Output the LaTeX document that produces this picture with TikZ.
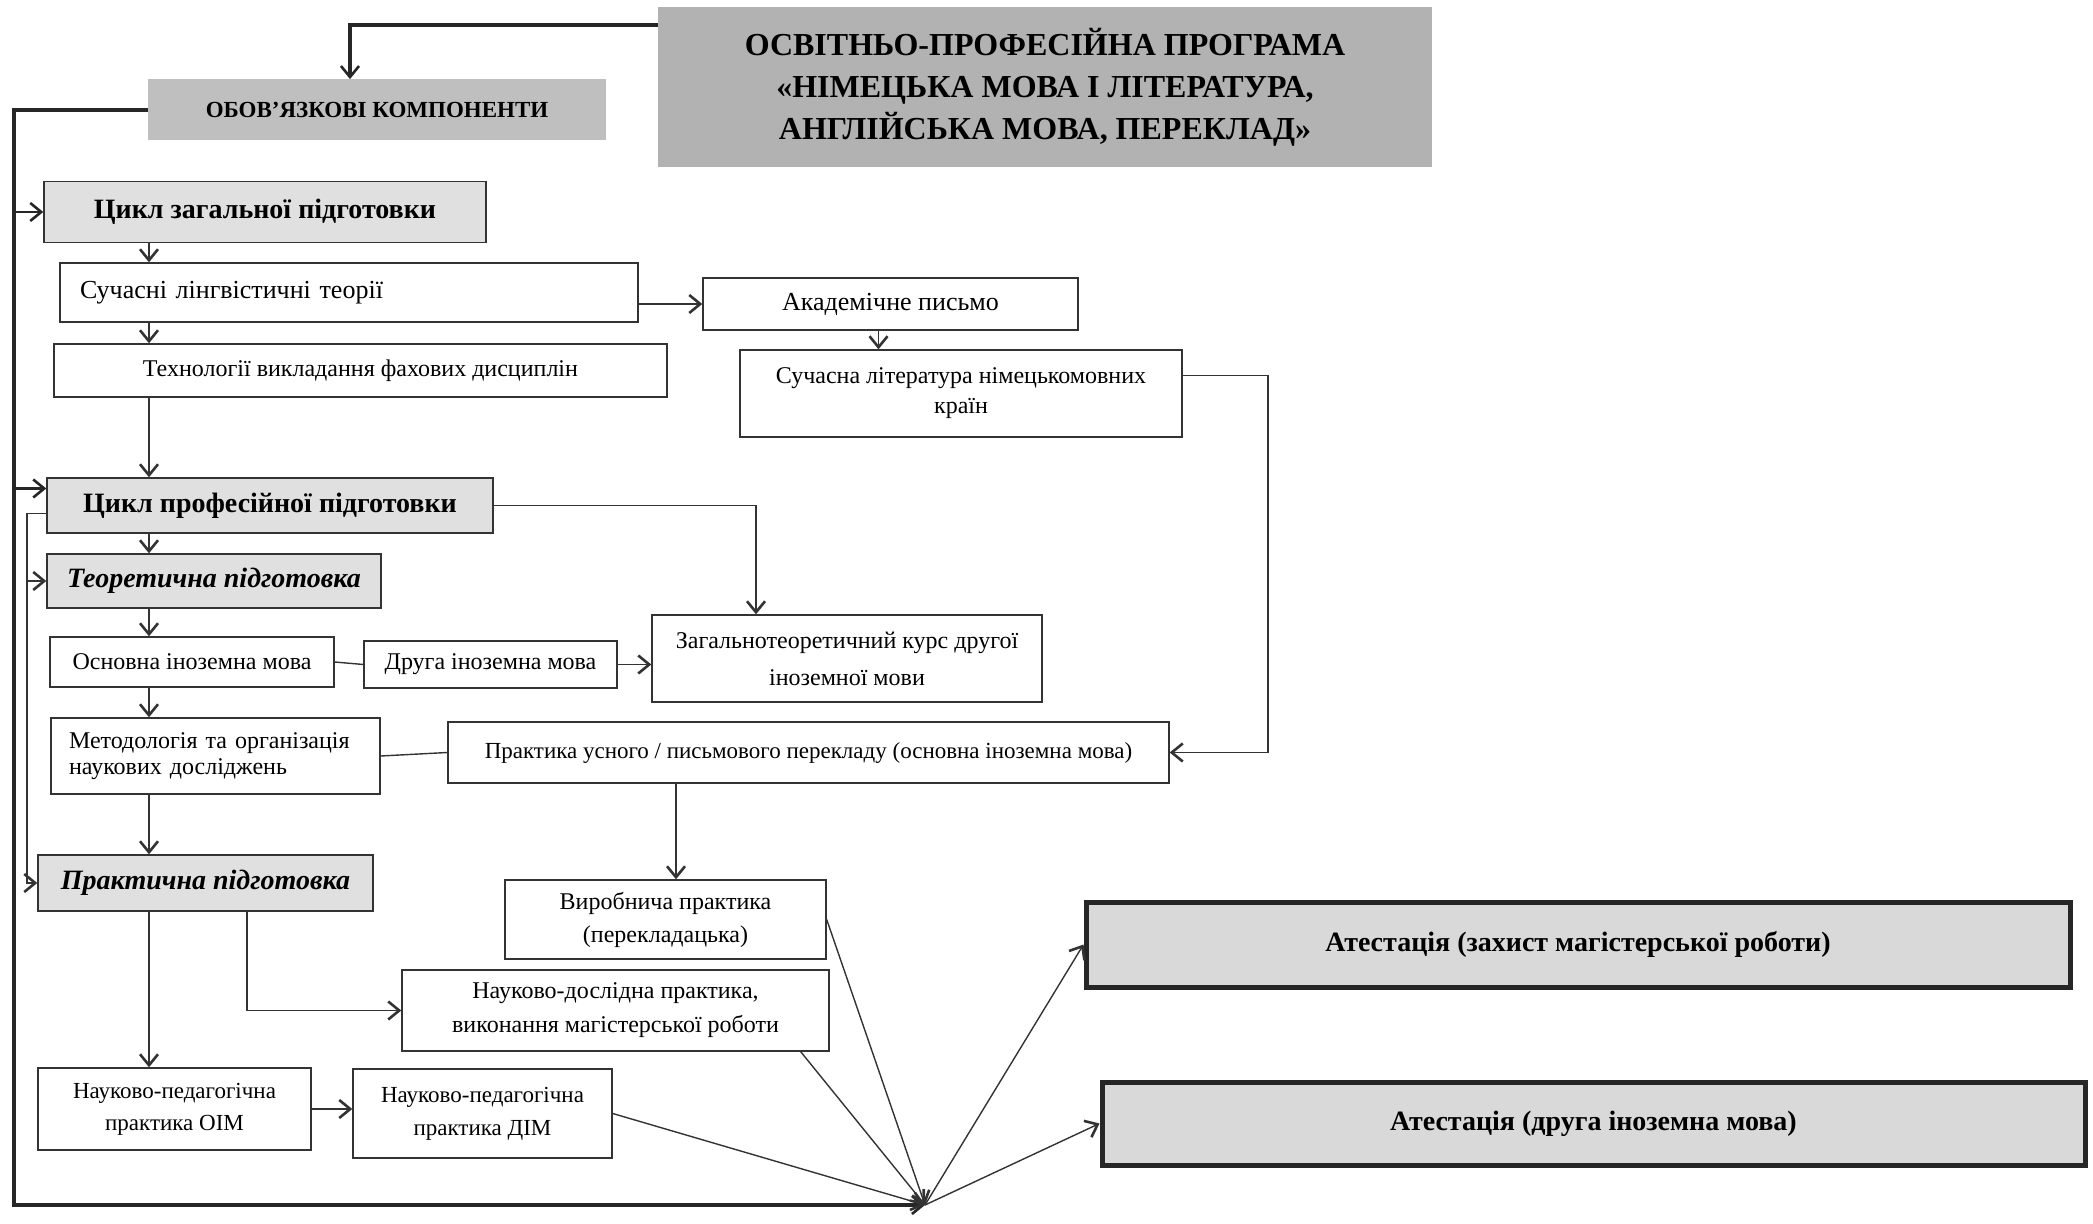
\documentclass[tikz,border=0pt]{standalone}
\usepackage{fontspec}
\setmainfont{Liberation Serif}
\usetikzlibrary{arrows.meta}
\newcommand\myfs[2]{\fontsize{#1}{#2}\selectfont}
\begin{document}
\begin{tikzpicture}[x=0.5pt,y=-0.5pt,
  box/.style={draw=black!80,line width=0.7pt,inner sep=0pt,align=center,font=\myfs{12}{16}},
  gbox/.style={box,fill=black!12,font=\bfseries\myfs{14}{17}},
  ibox/.style={gbox,font=\bfseries\itshape\myfs{14}{17}},
  abox/.style={box,fill=black!15,line width=2.5pt,draw=black!85,font=\bfseries\myfs{14}{17}},
  thn/.style={draw=black!80,line width=0.7pt},
  thk/.style={draw=black!85,line width=2pt},
  mid/.style={draw=black!85,line width=1.3pt},
  arr/.style={-{Straight Barb[length=5.5pt,width=9pt,line width=1.3pt]}},
]
\useasboundingbox (0,0) rectangle (2093,1224);

% nodes
\node[fill=black!30,inner sep=0pt,minimum width=387pt,minimum height=80pt,align=center,font=\bfseries\myfs{16}{21}] (title) at (1045,87) {ОСВІТНЬО-ПРОФЕСІЙНА ПРОГРАМА\\«НІМЕЦЬКА МОВА І ЛІТЕРАТУРА,\\АНГЛІЙСЬКА МОВА, ПЕРЕКЛАД»};
\node[fill=black!25,inner sep=0pt,minimum width=229pt,minimum height=30.5pt,font=\bfseries\myfs{11.5}{14}] (oblig) at (377,110) {ОБОВ’ЯЗКОВІ КОМПОНЕНТИ};

\node[gbox,minimum width=221pt,minimum height=30.5pt] (czp) at (265,212) {Цикл загальної підготовки};
\node[box,minimum height=29.5pt,text width=269pt,inner xsep=10pt,align=left,font=\myfs{13}{16}] (such) at (349,292.5) {Сучасні лінгвістичні теорії};
\node[box,minimum width=187.5pt,minimum height=26pt,font=\myfs{13}{16}] (akad) at (890.5,304) {Академічне письмо};
\node[box,minimum width=221pt,minimum height=43.5pt,font=\myfs{12}{15}] (lit) at (961,393.5) {Сучасна література німецькомовних\\країн};
\node[box,minimum width=306.5pt,minimum height=26.5pt] (tech) at (360.5,370.5) {Технології викладання фахових дисциплін};
\node[gbox,minimum width=223pt,minimum height=27.5pt] (cpp) at (270,505.5) {Цикл професійної підготовки};
\node[ibox,minimum width=167pt,minimum height=27pt] (teor) at (214,581) {Теоретична підготовка};
\node[box,minimum width=142pt,minimum height=25pt] (osn) at (192,662) {Основна іноземна мова};
\node[box,minimum width=126.5pt,minimum height=23.5pt] (druha) at (490.5,664.5) {Друга іноземна мова};
\node[box,minimum width=195pt,minimum height=43.5pt,font=\myfs{12}{18.5}] (zag) at (847,658.5) {Загальнотеоретичний курс другої\\іноземної мови};
\node[box,minimum height=38pt,text width=146.5pt,inner xsep=9pt,align=left,font=\myfs{12}{13}] (metod) at (215.5,756) {Методологія та організація\\наукових досліджень};
\node[box,minimum width=360.5pt,minimum height=30.5pt,font=\myfs{11.5}{14}] (prakt) at (808.5,752.5) {Практика усного / письмового перекладу (основна іноземна мова)};
\node[ibox,minimum width=167.5pt,minimum height=28pt] (prak) at (205.5,883) {Практична підготовка};
\node[box,minimum width=160.5pt,minimum height=39.5pt,font=\myfs{12}{16.5}] (vyrob) at (665.5,919.5) {Виробнича практика\\(перекладацька)};
\node[box,minimum width=213.5pt,minimum height=40.5pt,font=\myfs{12}{17}] (nd) at (615.5,1010.5) {Науково-дослідна практика,\\виконання магістерської роботи};
\node[box,minimum width=136.5pt,minimum height=41pt,font=\myfs{11.5}{16}] (oim) at (174.5,1109) {Науково-педагогічна\\практика ОІМ};
\node[box,minimum width=129.5pt,minimum height=44.5pt,font=\myfs{11.5}{16.5}] (dim) at (482.5,1113.5) {Науково-педагогічна\\практика ДІМ};
\node[abox,minimum width=492pt,minimum height=42.5pt] (at1) at (1578,944.5) {Атестація (захист магістерської роботи)};
\node[abox,minimum width=491.5pt,minimum height=41.5pt] (at2) at (1593.5,1123.5) {Атестація (друга іноземна мова)};

% helper coordinates
\coordinate (P) at (925,1205);
\coordinate (lx) at (14,0);
\coordinate (ix) at (27,0);
\coordinate (vx) at (149,0);
\coordinate (rx) at (1268,0);
\coordinate (px) at (676,0);
\coordinate (qx) at (247,0);
\coordinate (c1) at ([yshift=8.5pt]cpp.west);
\coordinate (c2) at ([yshift=-4pt]cpp.west);
\coordinate (c3) at ([xshift=-6pt]akad.south);
\coordinate (c4) at ([yshift=9pt]lit.east);
\coordinate (c5) at ([xshift=-45.5pt]zag.north);
\coordinate (c6) at ([xshift=-14.5pt]nd.south east);
\coordinate (c7) at ([yshift=-9pt]title.north west);
\coordinate (c8) at ([xshift=-13.5pt]oblig.north);

% thick frame connectors
\draw[thk,arr] (c7) -| (c8);
\draw[thk,arr] (oblig.west) -| (lx |- P) -- (P);
\draw[mid,arr] (lx |- czp.west) -- (czp.west);
\draw[mid,arr] (lx |- c1) -- (c1);

% inner left line
\draw[thn,arr] (c2) -| (ix |- prak.west) -- (prak.west);
\draw[thn,arr] (ix |- teor.west) -- (teor.west);

% vertical chain
\draw[thn,arr] (vx |- czp.south) -- (vx |- such.north);
\draw[thn,arr] (vx |- such.south) -- (vx |- tech.north);
\draw[thn,arr] (vx |- tech.south) -- (vx |- cpp.north);
\draw[thn,arr] (vx |- cpp.south) -- (vx |- teor.north);
\draw[thn,arr] (vx |- teor.south) -- (vx |- osn.north);
\draw[thn,arr] (vx |- osn.south) -- (vx |- metod.north);
\draw[thn,arr] (vx |- metod.south) -- (vx |- prak.north);
\draw[thn,arr] (vx |- prak.south) -- (vx |- oim.north);

% right side
\draw[thn,arr] (such.east |- akad.west) -- (akad.west);
\draw[thn,arr] (c3) -- (c3 |- lit.north);
\draw[thn,arr] (c4) -| (rx |- prakt.east) -- (prakt.east);
\draw[thn,arr] (cpp.east) -| (c5);
\draw[thn] (osn.east) -- (druha.west);
\draw[thn,arr] (druha.east) -- (druha.east -| zag.west);
\draw[thn] (metod.east) -- (prakt.west);
\draw[thn,arr] (px |- prakt.south) -- (px |- vyrob.north);
\draw[thn,arr] (qx |- prak.south) |- (nd.west);
\draw[thn,arr] (oim.east) -- (oim.east -| dim.west);

% convergence
\draw[thn,arr] (vyrob.east) -- (P);
\draw[thn,arr] (c6) -- (P);
\draw[thn,arr] (dim.east) -- (P);
\draw[thn,arr] (P) -- (at1.west);
\draw[thn,arr] (P) -- (at2.west);
\end{tikzpicture}
\end{document}
